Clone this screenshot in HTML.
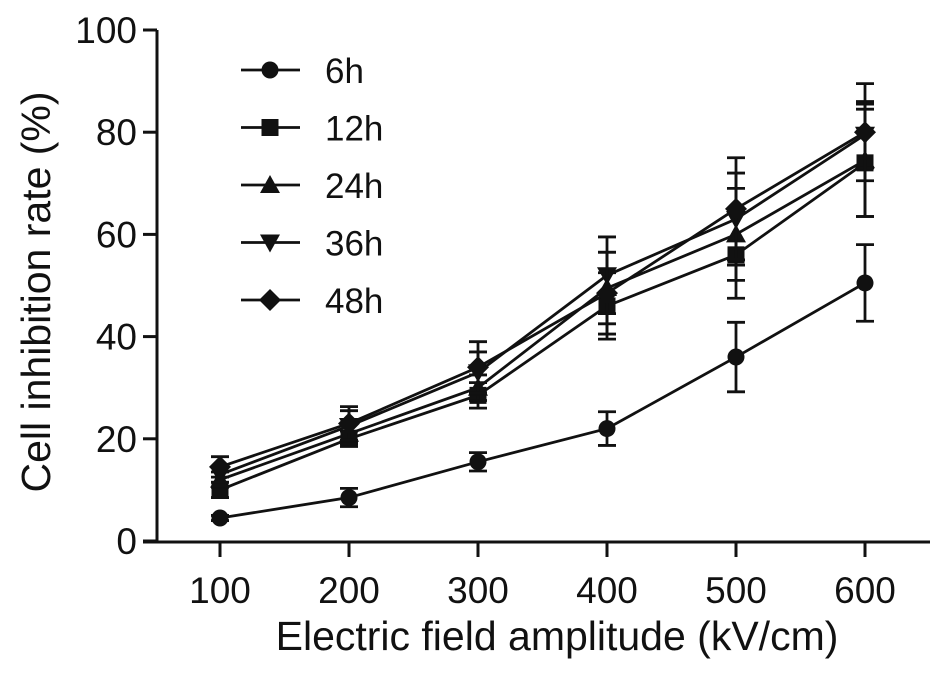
<!DOCTYPE html>
<html><head><meta charset="utf-8"><style>
body{margin:0;background:#fff}
svg text{font-family:"Liberation Sans",sans-serif;fill:#111}
</style></head><body>
<svg id="c" width="945" height="673" viewBox="0 0 945 673" xmlns="http://www.w3.org/2000/svg"></svg>
<script>
const categories=[100,200,300,400,500,600];
const seriesNames=["6h","12h","24h","36h","48h"];
const s6h=[4.5,8.5,15.5,22,36,50.5];
const s12h=[10,20,28.5,46,56,74];
const s24h=[12,21,30,49.5,60,74.5];
const s36h=[13,22.5,33,52,63,79.5];
const s48h=[14.5,23,34,48.5,65,80];
const e6h=[0.5,1.8,1.8,3.3,6.8,7.5];
const e12h=[1.5,1.5,2.5,6.5,8.5,10.5];
const e24h=[1.5,2,2.5,7,9,11];
const e36h=[1.5,3,4,7.5,9,6.5];
const e48h=[2,3.3,5,8,10,9.5];
const yTicks=[0,20,40,60,80,100];
const xTicks=[100,200,300,400,500,600];
const svg=document.getElementById('c');const NS="http://www.w3.org/2000/svg";
function X(v){return 220+(v-100)*1.29;}
function Y(v){return 541-v*5.11;}
function mk(t,a,p){const e=document.createElementNS(NS,t);for(const k in a)e.setAttribute(k,a[k]);(p||svg).appendChild(e);return e;}
function marker(type,cx,cy,g){
 if(type==0)return mk('circle',{cx:cx,cy:cy,r:8.5,fill:'#111'},g);
 if(type==1)return mk('rect',{x:cx-8.5,y:cy-8.5,width:17,height:17,fill:'#111'},g);
 if(type==2)return mk('polygon',{points:`${cx},${cy-10} ${cx+10},${cy+8} ${cx-10},${cy+8}`,fill:'#111'},g);
 if(type==3)return mk('polygon',{points:`${cx},${cy+10} ${cx+10},${cy-8} ${cx-10},${cy-8}`,fill:'#111'},g);
 return mk('polygon',{points:`${cx},${cy-11} ${cx+11},${cy} ${cx},${cy+11} ${cx-11},${cy}`,fill:'#111'},g);
}
const ax=mk('g',{});
mk('line',{x1:157,y1:30,x2:157,y2:542,stroke:'#111','stroke-width':3},ax);
mk('line',{x1:143,y1:542,x2:930,y2:542,stroke:'#111','stroke-width':3},ax);
yTicks.forEach(t=>{mk('line',{x1:143,y1:Y(t),x2:157,y2:Y(t),stroke:'#111','stroke-width':3},ax);
 const tx=mk('text',{x:137,y:Y(t)+13,'text-anchor':'end','font-size':37},ax);tx.textContent=t;
 });
xTicks.forEach(t=>{mk('line',{x1:X(t),y1:542,x2:X(t),y2:557,stroke:'#111','stroke-width':3},ax);
 const tx=mk('text',{x:X(t),y:603,'text-anchor':'middle','font-size':37},ax);tx.textContent=t;
 });
const xt=mk('text',{x:557,y:650,'text-anchor':'middle','font-size':41});xt.textContent='Electric field amplitude (kV/cm)';

const yt=mk('text',{x:0,y:0,'text-anchor':'middle','font-size':41,transform:'translate(50,292) rotate(-90)'});yt.textContent='Cell inhibition rate (%)';

const data=[s6h,s12h,s24h,s36h,s48h],errs=[e6h,e12h,e24h,e36h,e48h];
data.forEach((s,i)=>{
 const g=mk('g',{});
 mk('polyline',{points:s.map((v,j)=>X(categories[j])+','+Y(v)).join(' '),fill:'none',stroke:'#111','stroke-width':2.8},g);
 s.forEach((v,j)=>{const x=X(categories[j]),e=errs[i][j];
  mk('line',{x1:x,y1:Y(v+e),x2:x,y2:Y(v-e),stroke:'#111','stroke-width':2.8},g);
  mk('line',{x1:x-9,y1:Y(v+e),x2:x+9,y2:Y(v+e),stroke:'#111','stroke-width':2.8},g);
  mk('line',{x1:x-9,y1:Y(v-e),x2:x+9,y2:Y(v-e),stroke:'#111','stroke-width':2.8},g);
  const m=marker(i,x,Y(v),g);});
});
seriesNames.forEach((n,i)=>{const y=70+i*57.5;
 const g=mk('g',{});
 mk('line',{x1:241,y1:y,x2:300,y2:y,stroke:'#111','stroke-width':2.8},g);marker(i,270,y,g);
 const t=mk('text',{x:325,y:y+13,'font-size':35},g);t.textContent=n;});
</script></body></html>
